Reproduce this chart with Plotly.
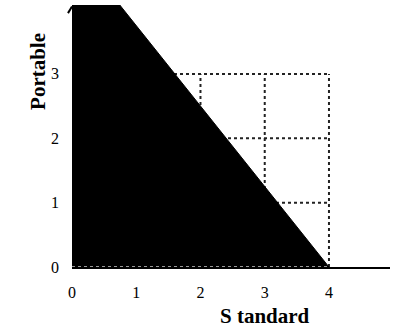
import plotly.graph_objects as go

# Budget line: Standard-axis and Portable-axis intercepts
standard_max = 4
portable_max = 5

# Reference grid levels drawn over the budget region
grid_x = [1, 2, 3, 4]
grid_y = [1, 2, 3]
grid_top = 3

x_ticks = [0, 1, 2, 3, 4]
y_ticks = [0, 1, 2, 3]

fig = go.Figure()

# dotted grid (vertical and horizontal), drawn under the filled region
for gx in grid_x:
    fig.add_trace(go.Scatter(x=[gx, gx], y=[0, grid_top], mode="lines",
                             line=dict(color="#222", width=2, dash="dot"),
                             hoverinfo="skip", showlegend=False))
for gy in grid_y:
    fig.add_trace(go.Scatter(x=[0, standard_max], y=[gy, gy], mode="lines",
                             line=dict(color="#222", width=2, dash="dot"),
                             hoverinfo="skip", showlegend=False))

# feasible set under the budget line
fig.add_trace(go.Scatter(x=[0, 0, standard_max, 0], y=[0, portable_max, 0, 0],
                         mode="lines", fill="toself", fillcolor="black",
                         line=dict(color="black", width=1),
                         hoverinfo="skip", showlegend=False))

# dotted base line along the Standard axis
fig.add_trace(go.Scatter(x=[0, standard_max], y=[0, 0], mode="lines",
                         line=dict(color="#999", width=2, dash="dot"),
                         hoverinfo="skip", showlegend=False))

font = dict(family="Liberation Serif, Times New Roman, serif", color="black")

fig.update_layout(
    width=393, height=329,
    margin=dict(l=72, r=3, t=5, b=62),
    paper_bgcolor="white", plot_bgcolor="white",
    showlegend=False,
    xaxis=dict(range=[0, 4.95], tickvals=x_ticks, ticktext=[str(v) for v in x_ticks],
               showgrid=False, zeroline=False, showline=True, linecolor="black",
               linewidth=1.5, ticks="", tickfont=dict(size=16, **font), ticklabelstandoff=10),
    yaxis=dict(range=[0, 4.07], tickvals=y_ticks, ticktext=[str(v) for v in y_ticks],
               showgrid=False, zeroline=False, showline=False, ticks="",
               tickfont=dict(size=16, **font), ticklabelstandoff=12),
    shapes=[
        dict(type="line", xref="paper", yref="paper", x0=-0.0126, y0=0.969,
             x1=0.0, y1=0.994, line=dict(color="black", width=2)),
    ],
    annotations=[
        dict(text="<b>S tandard</b>", x=3, y=0, xref="x", yref="y",
             yshift=-49, showarrow=False, font=dict(size=21, **font)),
        dict(text="<b>Portable</b>", x=0, xref="paper", y=3.03, yref="y",
             xshift=-48, textangle=-90, showarrow=False, font=dict(size=21, **font)),
    ],
)

fig.write_html("out.html")
